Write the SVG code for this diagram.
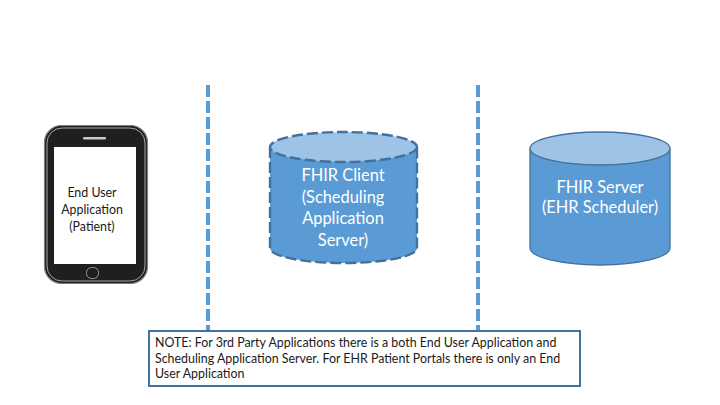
<svg xmlns="http://www.w3.org/2000/svg" width="720" height="405" viewBox="0 0 720 405">
<style>
text{font-family:"Lato","Carlito","Open Sans",sans-serif}
.div{stroke:#5b9bd5;stroke-width:4;stroke-dasharray:12 4;fill:none}
.body{fill:#5b9bd5;stroke:#41719c;stroke-width:1.3}
.top{fill:#9dc3e6;stroke:#41719c;stroke-width:1.3}
.dash{stroke-width:2.4;stroke-dasharray:11 4;stroke:#41719c}
.w{fill:#fff;font-size:16.4px;text-anchor:middle}
.k{fill:#1a1a1a;font-size:12.4px;text-anchor:middle}
.n{fill:#1a1a1a;font-size:12.4px}
</style>
<rect width="720" height="405" fill="#fff"/>
<g id="connectors">
<line class="div" x1="208" y1="85" x2="208" y2="331"/>
<line class="div" x1="478" y1="85" x2="478" y2="331"/>
</g>
<g id="phone">
<rect x="44.5" y="125.5" width="103" height="158" rx="17" fill="#1f1f1f" stroke="#7f7f7f" stroke-width="1.2"/>
<rect x="47" y="128" width="98" height="153" rx="15" fill="#1f1f1f" stroke="#a6a6a6" stroke-width="1"/>
<rect x="83" y="137" width="23" height="2.5" rx="1" fill="#c8c8c8"/>
<rect x="54" y="147" width="82" height="117" fill="#fff"/>
<rect x="86.500" y="267.500" width="12" height="11" rx="5" fill="#1f1f1f" stroke="#9a9a9a"/>
<text class="k" x="92" y="197">End User</text>
<text class="k" x="92" y="214">Application</text>
<text class="k" x="92" y="231">(Patient)</text>
</g>
<g id="fhir-client">
<path class="body dash" d="M270 147V248C270 256.300 303 263 343.500 263S417 256.300 417 248V147"/>
<ellipse class="top dash" cx="343.500" cy="147" rx="73.500" ry="15"/>
<text class="w" x="343" y="181">FHIR Client</text>
<text class="w" x="343" y="203">(Scheduling</text>
<text class="w" x="343" y="224">Application</text>
<text class="w" x="343" y="246">Server)</text>
</g>
<g id="fhir-server">
<path class="body" d="M530 148.500V248C530 257.100 561.300 265 600 265S670 257.100 670 248V148.500"/>
<ellipse class="top" cx="600" cy="148.500" rx="70" ry="16.500"/>
<text class="w" x="600" y="193">FHIR Server</text>
<text class="w" x="600" y="213">(EHR Scheduler)</text>
</g>
<g id="note">
<rect x="149" y="331" width="431" height="55" fill="#fff" stroke="#41719c" stroke-width="2"/>
<text class="n" x="155" y="346.500">NOTE: For 3rd Party Applications there is a both End User Application and</text>
<text class="n" x="155" y="362.500">Scheduling Application Server. For EHR Patient Portals there is only an End</text>
<text class="n" x="155" y="378">User Application</text>
</g>
</svg>
